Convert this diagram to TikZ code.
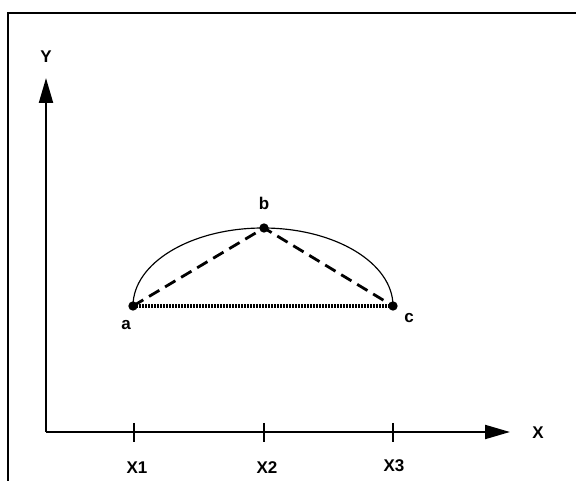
\documentclass[tikz,border=0pt]{standalone}
\usepackage{fontspec}
\setmainfont{Liberation Sans}
\usepackage{tikz}
\usetikzlibrary{arrows.meta,positioning}

\begin{document}
\begin{tikzpicture}[x=0.03cm, y=-0.03cm,
    lbl/.style={font=\fontsize{14.5}{16}\selectfont\bfseries, inner sep=0pt},
    axis/.style={line width=1.8pt, -{Triangle[length=0.75cm, width=0.42cm]}},
    pt/.style={circle, fill=black, inner sep=0pt, minimum size=0.28cm},
    tick/.style={line width=1pt}]
    \useasboundingbox (0,0) rectangle (576,481);
    % frame
    \draw[line width=1.2pt] (8,481) -- (8,13) -- (576,13);

    % axes
    \coordinate (o) at (46,432);
    \coordinate (ytip) at (46,78);
    \coordinate (xtip) at (510,432);
    \draw[axis] (o) -- (ytip);
    \draw[axis] (o) -- (xtip);
    \node[lbl] (ylab) at (46,57) {Y};
    \node[lbl] (xlab) at (538,433) {X};

    % ticks
    \coordinate (t1) at (134,432);
    \coordinate (t2) at (264,432);
    \coordinate (t3) at (393,432);
    \foreach \t in {t1,t2,t3}
        \draw[tick] ([yshift=0.27cm]\t) -- ([yshift=-0.3cm]\t);
    \node[lbl] (x1) at (137,468) {X1};
    \node[lbl] (x2) at (267,468) {X2};
    \node[lbl] (x3) at (394,466) {X3};

    % points
    \node[pt] (a) at (133,306) {};
    \node[pt] (b) at (264,228) {};
    \node[pt] (c) at (393,306) {};
    \node[lbl] (alab) at (126,325) {a};
    \node[lbl] (blab) at (264,203) {b};
    \node[lbl] (clab) at (409,318) {c};

    \draw[line width=1pt] (a.center) arc[start angle=180, end angle=0, x radius=130, y radius=-78];
    \draw[line width=2.4pt, dash pattern=on 0.36cm off 0.2cm] (a.center) -- (b.center) -- (c.center);
    \draw[line width=2.6pt, dash pattern=on 0.05cm off 0.04cm] (a.center) -- (c.center);
\end{tikzpicture}
\end{document}
